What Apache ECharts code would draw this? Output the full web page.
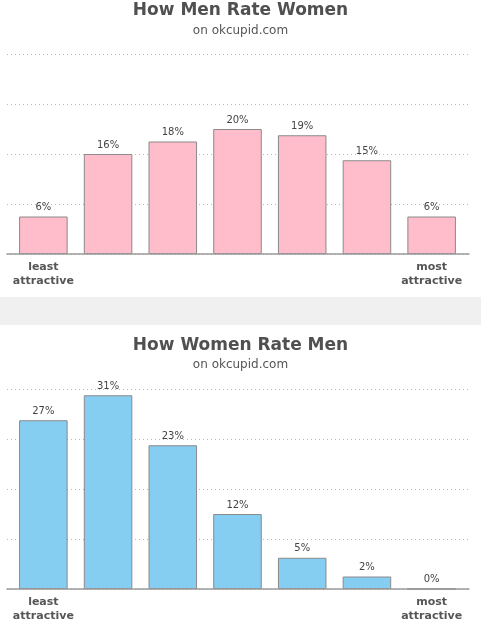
<!DOCTYPE html>
<html><head><meta charset="utf-8">
<script src="https://cdn.jsdelivr.net/npm/echarts@6/dist/echarts.min.js"></script>
<style>html,body{margin:0;padding:0;background:#fff}#c{width:481px;height:627px}</style>
</head><body><div id="c"></div>
<script>
var categories = ['1', '2', '3', '4', '5', '6', '7'];
var tickLabels = ['least\nattractive', '', '', '', '', '', 'most\nattractive'];
var menRateWomen = [6, 16, 18, 20, 19, 15, 6];
var womenRateMen = [27, 31, 23, 12, 5, 2, 0];
var titles = ['How Men Rate Women', 'How Women Rate Men'];
var subtitle = 'on okcupid.com';

var FONT = 'DejaVu Sans';
var chart = echarts.init(document.getElementById('c'), null, {renderer: 'canvas'});

// bar grids (0,1) and wider background grids for gridlines/baseline (2,3)
function xBar(gi) {
  return {
    type: 'category', gridIndex: gi, data: categories,
    axisTick: {show: false},
    axisLine: {show: false},
    axisLabel: {
      interval: 0, margin: 6, fontFamily: FONT, fontSize: 11, fontWeight: 'bold',
      color: '#555', lineHeight: 14,
      formatter: function (v, i) { return tickLabels[i]; }
    }
  };
}
function yBar(gi) {
  return {
    type: 'value', gridIndex: gi, min: 0, max: 32, interval: 8,
    axisLabel: {show: false}, axisLine: {show: false}, axisTick: {show: false},
    splitLine: {show: false}
  };
}
function xBg(gi) {
  return {
    type: 'value', gridIndex: gi, min: 0, max: 1,
    axisTick: {show: false}, axisLabel: {show: false}, splitLine: {show: false},
    axisLine: {show: true, lineStyle: {color: '#9a9a9a', width: 1.5}}, z: 5
  };
}
function yBg(gi) {
  return {
    type: 'value', gridIndex: gi, min: 0, max: 32, interval: 8,
    axisLabel: {show: false}, axisLine: {show: false}, axisTick: {show: false},
    splitLine: {lineStyle: {color: '#b8b8b8', type: [1, 3], width: 1}}
  };
}
function ser(gi, data, color) {
  return {
    type: 'bar', xAxisIndex: gi, yAxisIndex: gi, data: data,
    barCategoryGap: '25%',
    itemStyle: {color: color, borderColor: '#8a8a8a', borderWidth: 1},
    label: {show: true, position: 'top', distance: 4, formatter: '{c}%',
      fontFamily: FONT, fontSize: 10, color: '#444'},
    silent: true, z: 3
  };
}
function ttl(text, top, size, weight, color) {
  return {text: text, left: 'center', top: top, padding: 0,
    textStyle: {fontFamily: FONT, fontSize: size, fontWeight: weight, color: color}};
}

chart.setOption({
  animation: false,
  backgroundColor: '#fff',
  title: [
    ttl(titles[0], 2, 17, 'bold', '#505050'),
    ttl(subtitle, 25, 12, 'normal', '#555'),
    ttl(titles[1], 337, 17, 'bold', '#505050'),
    ttl(subtitle, 359, 12, 'normal', '#555')
  ],
  graphic: [{type: 'rect', shape: {x: 0, y: 297, width: 481, height: 28},
    style: {fill: '#f0f0f0'}, silent: true, z: -10}],
  grid: [
    {left: 11, right: 17, top: 54, bottom: 627 - 254},
    {left: 11, right: 17, top: 389, bottom: 627 - 589},
    {left: 7, right: 12, top: 54, bottom: 627 - 254},
    {left: 7, right: 12, top: 389, bottom: 627 - 589}
  ],
  xAxis: [xBar(0), xBar(1), xBg(2), xBg(3)],
  yAxis: [yBar(0), yBar(1), yBg(2), yBg(3)],
  series: [ser(0, menRateWomen, '#ffbccb'), ser(1, womenRateMen, '#86cdf2')]
});
</script></body></html>
